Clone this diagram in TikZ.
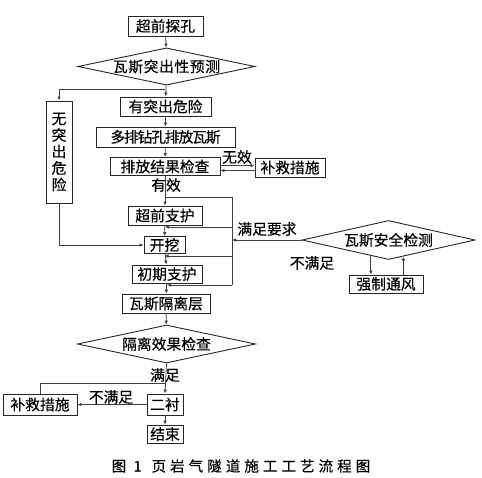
\documentclass[tikz,border=0pt]{standalone}
\usepackage{fontspec}
\setmainfont{Noto Sans CJK SC}[FakeBold=0.35]
\usetikzlibrary{shapes.geometric,arrows.meta,calc}
\begin{document}
\begin{tikzpicture}[x=1pt,y=-1pt,
  every node/.style={font=\fontsize{14.8}{16.5}\selectfont, inner sep=0pt},
  box/.style={draw=black!85, line width=0.9pt, rectangle, minimum height=19pt},
  dia/.style={draw=black!85, line width=0.9pt, diamond, aspect=4.6},
  conn/.style={draw=black!75, line width=0.8pt},
  arr/.style={conn, -{Latex[length=4pt,width=3.6pt]}},
  lbl/.style={fill=none}]
\useasboundingbox (0,0) rectangle (482,477);

\node[box, minimum width=75pt, minimum height=20pt] (n1) at (165.5,26) {超前探孔};
\node[dia, minimum width=177pt, minimum height=37pt] (d1) at (166.5,66.5) {\addfontfeature{LetterSpace=4}瓦斯突出性预测};
\node[box, minimum width=91pt] (n2) at (165.5,106.5) {有突出危险};
\node[box, minimum width=139pt, minimum height=20pt] (n4) at (165.5,137) {\addfontfeature{LetterSpace=-8}多排钻孔排放瓦斯};
\node[box, minimum width=26pt, minimum height=102pt, align=center] (n3) at (59,152) {无\\突\\出\\危\\险};
\node[box, minimum width=110pt, minimum height=18pt] (n5) at (165,166.5) {排放结果检查};
\node[box, minimum width=70pt] (n6) at (290,167.5) {补救措施};
\node[box, minimum width=74pt] (n7) at (165,215.5) {超前支护};
\node[box, minimum width=41pt, minimum height=17pt] (n8) at (164.5,245) {开挖};
\node[box, minimum width=70pt, minimum height=18pt] (n9) at (167,274) {初期支护};
\node[box, minimum width=88pt] (n10) at (166,303.5) {瓦斯隔离层};
\node[dia, minimum width=173pt, minimum height=39pt] (d2) at (388.5,240) {瓦斯安全检测};
\node[box, minimum width=74pt, minimum height=18pt] (n11) at (386,284) {强制通风};
\node[dia, minimum width=178pt, minimum height=38pt] (d3) at (166.5,344) {隔离效果检查};
\node[box, minimum width=36pt, minimum height=21pt] (n12) at (165,404.5) {二衬};
\node[box, minimum width=74pt, minimum height=21pt] (n13) at (40,404.5) {补救措施};
\node[box, minimum width=36pt, minimum height=18pt] (n14) at (165,434) {结束};

% labels
\node[lbl] (l1) at (237,157) {无效};
\node[lbl] (l2) at (166,185) {有效};
\node[lbl] (l3) at (267,229) {满足要求};
\node[lbl] (l4) at (312,263) {不满足};
\node[lbl] (l5) at (165,375) {满足};
\node[lbl] (l6) at (111,397) {不满足};
\node[font=\fontsize{14.5}{16}\selectfont\addfontfeature{LetterSpace=28}] (cap) at (241,466) {图 1\hspace{10pt}页岩气隧道施工工艺流程图};

% coordinates
\coordinate (j1) at (165,89);
\coordinate (t1) at (165,197);
\coordinate (t2) at (232,197);
\coordinate (r1) at (232,227);
\coordinate (r2) at (232,256);
\coordinate (r3) at (232,285);
\coordinate (r0) at (232,240);
\coordinate (b1) at (165,383);

% main flow
\draw[arr] (n1) -- (d1);
\draw[arr] (d1) -- (n2);
\draw[arr] (j1) -| (n3.north);
\draw[arr] (n2) -- (n4);
\draw[arr] (n4) -- (n5);
\draw[arr] ([yshift=1pt]n5.east) -- ([yshift=2pt]n6.west);
\draw[arr] ([yshift=-3pt]n6.west) -- ([yshift=-4pt]n5.east);
\draw[arr] (n5) -- (n7);
\draw[arr] (n7) -- (n8);
\draw[arr] (n8) -- (n9);
\draw[arr] (n9) -- (n10);
\draw[arr] (n3.south) |- (n8.west);

% loop
\draw[conn] (t1) -- (t2) -- (r3);
\draw[arr] (r1) -- (r1 -| n7.south);
\draw[arr] (r2) -- (r2 -| n8.south);
\draw[arr] (r3) -- (r3 -| n9.south);
\draw[arr] (d2.west) -- (r0);
\draw[arr] (d2.222) -- (d2.222 |- n11.north);
\draw[arr] (d2.312 |- n11.north) -- (d2.312);

% lower part
\draw[arr] (n10) -- (d3);
\draw[arr] (d3.south) -- (n12.north);
\draw[arr] (n12) -- (n13);
\draw[conn] (n13.north) |- (b1);
\draw[arr] (n12) -- (n14);
\end{tikzpicture}
\end{document}
